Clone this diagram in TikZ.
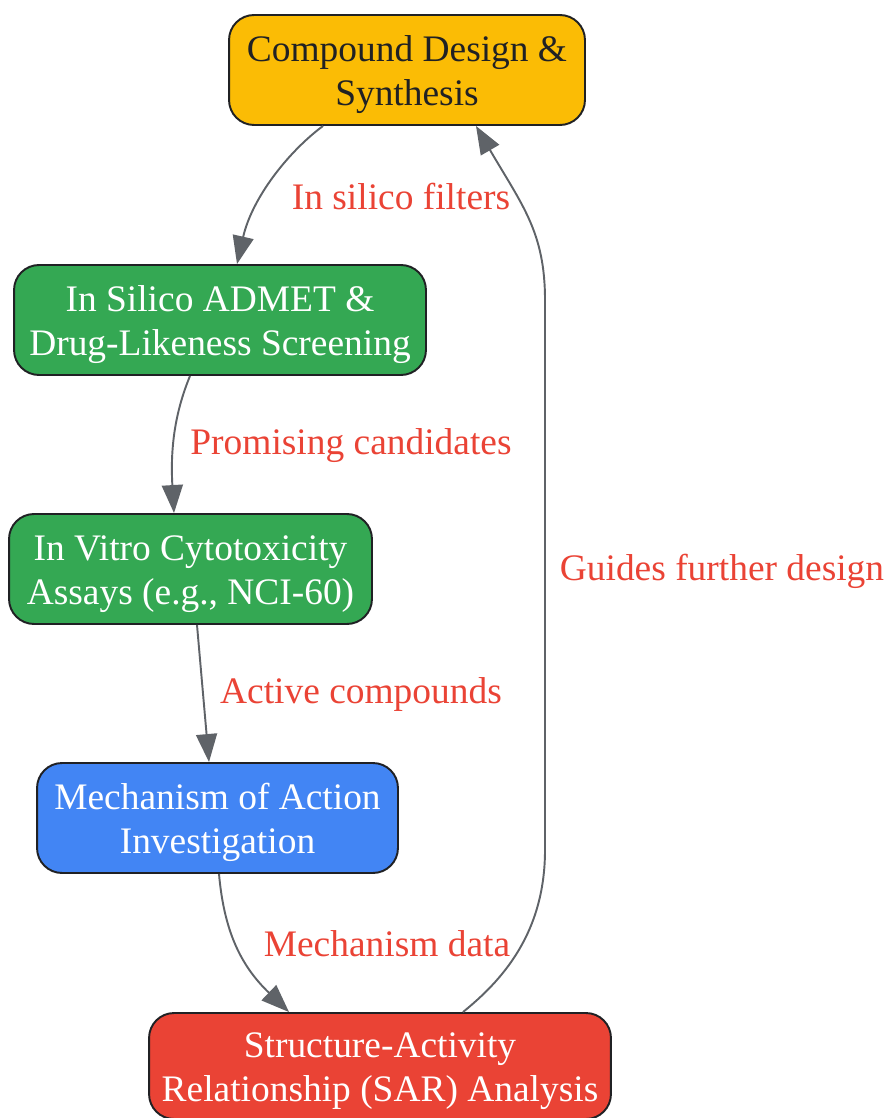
\documentclass[tikz,border=0pt]{standalone}
\usepackage{fontspec}
\setmainfont{Liberation Serif}
\usetikzlibrary{arrows.meta}

\definecolor{gyellow}{HTML}{FBBC05}
\definecolor{ggreen}{HTML}{34A853}
\definecolor{gblue}{HTML}{4285F4}
\definecolor{gred}{HTML}{EA4335}
\definecolor{ggray}{HTML}{5F6368}
\definecolor{gdark}{HTML}{202124}

% two lines of a box, with fixed struts so that all boxes sit alike
\newcommand{\twolines}[2]{\rule{0pt}{20.5pt}#1\\#2\rule[-5pt]{0pt}{5pt}}

\tikzset{
  stage/.style={draw=gdark, line width=1.1pt, rounded corners=0.5cm,
    minimum height=2.2cm, align=center, text=white,
    font=\fontsize{21.3}{25}\selectfont},
  link/.style={draw=ggray, line width=1.1pt, -{Triangle[length=0.56cm,width=0.42cm]}},
  linklabel/.style={text=gred, font=\fontsize{21.3}{25}\selectfont}
}

\begin{document}
\begin{tikzpicture}[x=0.02cm,y=-0.02cm]

\useasboundingbox (0,0) rectangle (886,1118);

\node [stage, fill=gyellow, text=gdark, minimum width=7.12cm] (design) at (407,70) {\twolines{Compound Design \&}{Synthesis}};
\node [stage, fill=ggreen, minimum width=8.24cm] (admet) at (220,320) {\twolines{In Silico ADMET \&}{Drug-Likeness Screening}};
\node [stage, fill=ggreen, minimum width=7.26cm] (vitro) at (190.5,569) {\twolines{In Vitro Cytotoxicity}{Assays (e.g., NCI-60)}};
\node [stage, fill=gblue, minimum width=7.22cm] (moa) at (217.5,818) {\twolines{Mechanism of Action}{Investigation}};
\node [stage, fill=gred, minimum width=9.24cm, minimum height=2.12cm] (sar) at (380,1066) {\twolines{Structure-Activity}{Relationship (SAR) Analysis}};

\draw [link] ([xshift=-1.68cm]design.south) .. controls (288,152) and (252,198) .. ([xshift=0.34cm]admet.north);
\node [linklabel] (lfilters) at (401,197) {In silico filters};

\draw [link] ([xshift=-0.6cm]admet.south) .. controls (176,410) and (170,445) .. ([xshift=-0.33cm]vitro.north);
\node [linklabel] (lcandidates) at (351,446) {Promising candidates};

\draw [link] ([xshift=0.13cm]vitro.south) -- ([xshift=-0.17cm]moa.north);
\node [linklabel] (lactive) at (361,694) {Active compounds};

\draw [link] ([xshift=0.03cm]moa.south) .. controls (224,930) and (240,965) .. ([xshift=-1.82cm]sar.north);
\node [linklabel] (lmechanism) at (387,944) {Mechanism data};

\draw [link] ([xshift=1.66cm]sar.north) .. controls (500,982) and (545,935) .. (545,850)
  -- (545,300) .. controls (545,232) and (522,205) .. ([xshift=1.38cm]design.south);
\node [linklabel] (lguides) at (722,571) {Guides further design};

\end{tikzpicture}
\end{document}
